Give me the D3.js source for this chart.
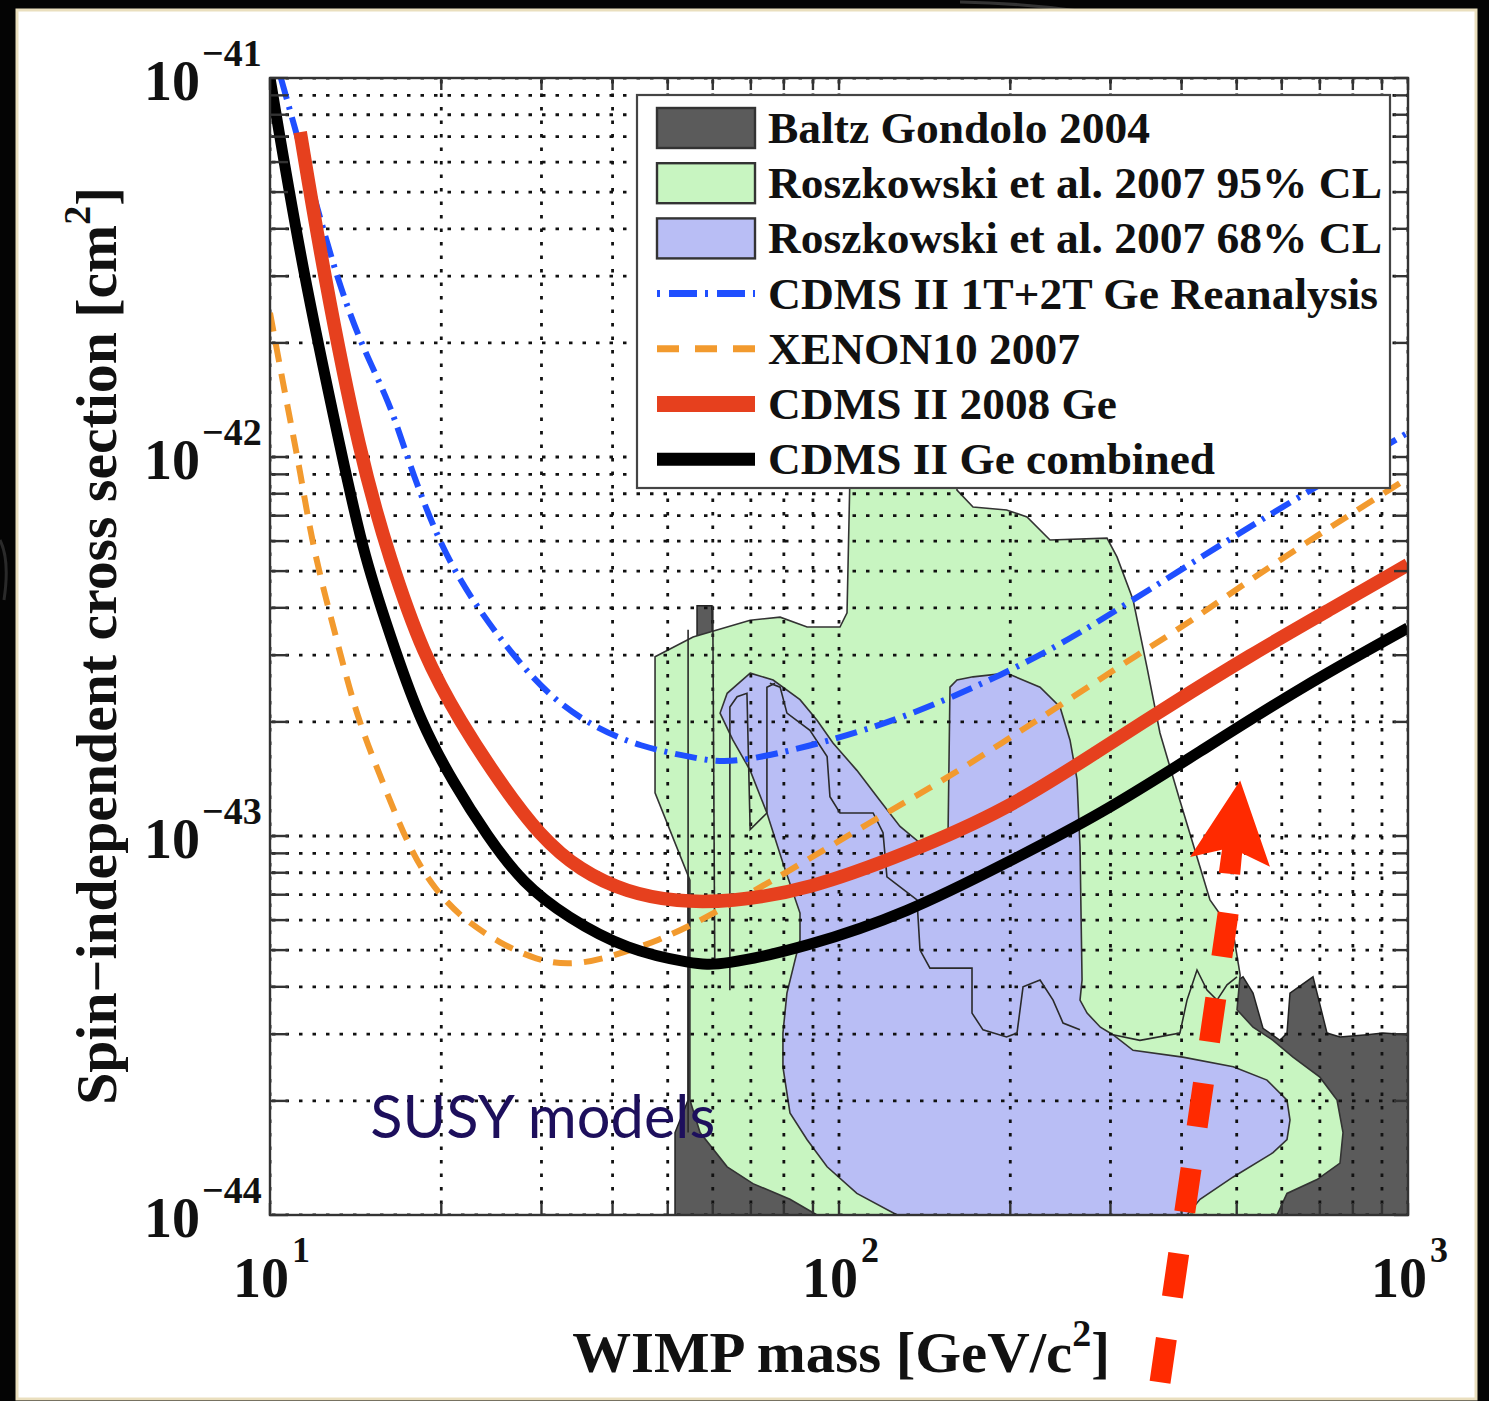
<!DOCTYPE html>
<html><head><meta charset="utf-8">
<script src="https://cdn.jsdelivr.net/npm/d3@7"></script>
<style>html,body{margin:0;padding:0;background:#000;} svg{display:block}</style>
</head><body><svg id="c" width="1489" height="1401"></svg>
<script>
// ---------------- DATA ----------------
const xDomain = [10, 1000];
const yDomain = [1e-41, 1e-44];
const xTickValues = [10, 100, 1000];
const xTickExps = ["1", "2", "3"];
const yTickValues = [1e-41, 1e-42, 1e-43, 1e-44];
const yTickExps = ["\u221241", "\u221242", "\u221243", "\u221244"];

const legendLabels = [
  "Baltz Gondolo 2004",
  "Roszkowski et al. 2007 95% CL",
  "Roszkowski et al. 2007 68% CL",
  "CDMS II 1T+2T Ge Reanalysis",
  "XENON10 2007",
  "CDMS II 2008 Ge",
  "CDMS II Ge combined"
];
const legendTextWidths = [382, 614, 614, 610, 312, 349, 447];

// regions: [mass GeV, sigma cm^2]
const baltzGondolo = [[51.5,1e-44],[51.5,1.65e-44],[54.3,2.01e-44],[54.3,7.65e-44],[56.3,2.29e-43],[56.3,4.05e-43],[59.8,4.05e-43],[60.0,2.29e-43],[85.4,3.69e-44],[352,3.69e-44],[493,4.09e-44],[512.9,4.25e-44],[534.1,3.85e-44],[556.1,3.11e-44],[595.7,2.89e-44],[612.8,3.02e-44],[620.3,3.85e-44],[680.8,4.25e-44],[720.6,3.02e-44],[759.5,2.95e-44],[847.3,2.99e-44],[903.9,3.02e-44],[1000,2.99e-44],[1000,1e-44]];
const rosz95 = [[47.5,2.97e-43],[55.4,3.35e-43],[69.8,3.71e-43],[78.8,3.78e-43],[87.9,3.56e-43],[100.4,3.56e-43],[103.3,3.88e-43],[104.5,8.7e-43],[104.5,9.8e-43],[161.2,9.8e-43],[161.2,8.18e-43],[172,7.38e-43],[197,7.25e-43],[214,6.95e-43],[234.9,6.04e-43],[295.8,6.11e-43],[308,5.45e-43],[328.7,4.2e-43],[347.7,2.79e-43],[366.5,1.87e-43],[397.3,1.24e-43],[431,8.28e-44],[448.7,6.78e-44],[493,5.55e-44],[507,4.3e-44],[500.6,3.48e-44],[534.1,3.13e-44],[579.1,2.89e-44],[627.9,2.61e-44],[700,2.31e-44],[750.4,2.01e-44],[768.8,1.65e-44],[759.5,1.37e-44],[692,1.24e-44],[612.8,1.14e-44],[588.6,1e-44],[91.5,1e-44],[82,1.1e-44],[70.6,1.21e-44],[63.6,1.34e-44],[57,1.65e-44],[54.7,2.01e-44],[54.7,7.65e-44],[47.5,1.3e-43]];
const rosz68 = [[69.8,2.69e-43],[76.6,2.58e-43],[85.4,2.29e-43],[91.5,2.02e-43],[97.6,1.76e-43],[107.5,1.49e-43],[118,1.24e-43],[128,1.06e-43],[141.6,9.35e-44],[155.5,1.04e-43],[156.7,2.47e-43],[161.2,2.58e-43],[172,2.63e-43],[197,2.69e-43],[225.6,2.47e-43],[244.6,2.19e-43],[254.7,1.79e-43],[262,1.41e-43],[265.2,9.35e-44],[267.4,4.17e-44],[265.2,3.69e-44],[272.9,3.41e-44],[288,3.13e-44],[303,2.99e-44],[328.7,2.72e-44],[402,2.61e-44],[493,2.46e-44],[565.2,2.27e-44],[612.8,2.01e-44],[620.3,1.78e-44],[612.8,1.58e-44],[579.1,1.46e-44],[493,1.26e-44],[431,1.1e-44],[408.9,1e-44],[126.5,1e-44],[107.5,1.14e-44],[95.3,1.34e-44],[87.9,1.58e-44],[82,1.86e-44],[79.7,2.46e-44],[79.7,3.02e-44],[81,3.85e-44],[85.4,5.32e-44],[85.4,6.26e-44],[79.7,8.49e-44],[74.7,1.15e-43],[69.8,1.49e-43],[65.1,1.79e-43],[61.8,2.11e-43],[63.6,2.38e-43]];

// thin contour lines drawn over the filled regions
const contourEdgeA = [[54.3,3.5e-43],[54.3,1.65e-44]];
const contourEdgeB = [[60.0,4.05e-43],[60.5,4.51e-44]];
const contourInner = [[64.3,3.92e-44],[64.3,2.19e-43],[66.2,2.33e-43],[68.9,2.38e-43],[69.8,1.04e-43],[74.7,1.15e-43],[74.7,2.47e-43],[77.2,2.53e-43]];
const contourStep = [[75.6,2.53e-43],[78.8,2.47e-43],[81.0,2.11e-43],[88.9,1.9e-43],[95.3,1.62e-43],[96.4,1.27e-43],[100.4,1.15e-43],[114.8,1.15e-43],[119.5,1.02e-43],[121.4,7.8e-44],[128,7.34e-44],[137.1,6.78e-44],[138.8,5.0e-44],[144.5,4.48e-44],[171.3,4.48e-44],[171.3,3.41e-44],[179.1,3.08e-44],[197,2.95e-44],[205.5,3.02e-44],[210.6,4.0e-44],[225.6,4.17e-44],[237.8,3.69e-44],[247.6,3.21e-44],[265.2,3.08e-44]];
const contourBumps = [[303,2.99e-44],[338,2.89e-44],[397.3,3.02e-44],[408.9,3.69e-44],[425.8,4.43e-44],[443.4,3.92e-44],[461.7,3.69e-44],[480.8,4.05e-44],[500.6,4.25e-44]];

// exclusion limits
const cdmsReanalysis = [[10.45,1e-41],[12.4,4.0e-42],[13.1,3.0e-42],[14.4,2.0e-42],[16.25,1.39e-42],[17.4,1e-42],[19.9,5.8e-43],[23.1,4.0e-43],[27.2,2.9e-43],[31.4,2.3e-43],[37.0,1.94e-43],[44.7,1.72e-43],[55.4,1.61e-43],[62.5,1.56e-43],[72.6,1.61e-43],[93.7,1.76e-43],[131.7,2.06e-43],[197,2.69e-43],[258,3.35e-43],[308,3.95e-43],[493,6.15e-43],[603,7.4e-43],[1000,1.16e-42]];
const xenon10 = [[10,2.4e-42],[10.7,1.39e-42],[11.3,9.2e-43],[11.9,5.7e-43],[13.1,3.3e-43],[14.2,2.06e-43],[15.8,1.38e-43],[17.4,9.6e-44],[19.1,7.5e-44],[21.6,6.1e-44],[25.4,5.2e-44],[29.5,4.7e-44],[33.3,4.57e-44],[38.0,4.7e-44],[48.5,5.3e-44],[58.6,6.1e-44],[82,8.1e-44],[114.8,1.1e-43],[150,1.38e-43],[197,1.79e-43],[258,2.33e-43],[338,3.04e-43],[402,3.56e-43],[603,5.45e-43],[1000,8.8e-43]];
const cdms2008 = [[11.3,7.2e-42],[12.4,3.1e-42],[14.4,1e-42],[16.25,5.35e-43],[18.6,3.0e-43],[21.6,2.0e-43],[25.4,1.38e-43],[29.8,1.0e-43],[35.1,8.1e-44],[42.4,7.1e-44],[51.9,6.7e-44],[64.3,6.7e-44],[87.9,7.2e-44],[131.7,9.0e-44],[197,1.17e-43],[288,1.69e-43],[377,2.19e-43],[528,3.0e-43],[738,4.0e-43],[1000,5.2e-43]];
const cdmsCombined = [[10,1e-41],[11.4,3.1e-42],[13.4,1e-42],[14.6,5.5e-43],[16.7,3.0e-43],[18.4,2.0e-43],[21.0,1.38e-43],[24.1,1.0e-43],[27.8,7.5e-44],[33.3,6.1e-44],[42.4,5.0e-44],[55.4,4.6e-44],[61.8,4.54e-44],[87.9,5.1e-44],[131.7,6.26e-44],[197,8.49e-44],[288,1.14e-43],[431,1.67e-43],[646,2.46e-43],[1000,3.54e-43]];

// annotation arrow (mass, sigma)
const arrowShaft = [[483,6.26e-44],[366,3.56e-45]];
const arrowHead = [[507,1.4e-43],[572,8.3e-44],[511,9.0e-44],[507,7.9e-44],[465,8.0e-44],[471,9.2e-44],[414,8.8e-44]];
const annotationText = "SUSY models";
const annotationPos = [[15.0, 1.6e-44]];

// ---------------- DRAW ----------------
const svg = d3.select("#c");
const W = 1489, H = 1401;
const x = d3.scaleLog().domain(xDomain).range([270, 1408]);
const y = d3.scaleLog().domain(yDomain).range([78, 1215]);
const serif = "'Liberation Serif','Times New Roman',serif";

svg.append("rect").attr("width", W).attr("height", H).attr("fill", "#040404");
svg.append("path").attr("d", "M960,2 Q1060,4 1140,22").attr("stroke", "#555").attr("stroke-width", 3).attr("fill", "none").attr("opacity", 0.6);
svg.append("path").attr("d", "M0,540 Q10,560 4,600").attr("stroke", "#444").attr("stroke-width", 3).attr("fill", "none").attr("opacity", 0.6);

// card
svg.append("rect").attr("x", 17).attr("y", 10).attr("width", 1459).attr("height", 1389)
  .attr("fill", "#ffffff").attr("stroke", "#eadfbe").attr("stroke-width", 3);

const defs = svg.append("defs");
defs.append("clipPath").attr("id", "plotClip").append("rect")
  .attr("x", 270).attr("y", 78).attr("width", 1138).attr("height", 1137);

const plot = svg.append("g").attr("clip-path", "url(#plotClip)");
const area = d3.line().x(d => x(d[0])).y(d => y(d[1])).curve(d3.curveLinearClosed);
const poly = d3.line().x(d => x(d[0])).y(d => y(d[1])).curve(d3.curveLinear);
const smooth = d3.line().x(d => x(d[0])).y(d => y(d[1])).curve(d3.curveBasis);

plot.append("path").attr("d", area(baltzGondolo)).attr("fill", "#5b5b5b").attr("stroke", "#222").attr("stroke-width", 1.5);
plot.append("path").attr("d", area(rosz95)).attr("fill", "#c8f5c1").attr("stroke", "#333").attr("stroke-width", 1.6);
plot.append("path").attr("d", area(rosz68)).attr("fill", "#b9bef5").attr("stroke", "#333").attr("stroke-width", 1.6);

// grid
const xGridVals = [], yGridVals = [];
for (let e = 1; e <= 2; e++) for (let k = 1; k <= 9; k++) xGridVals.push(k * Math.pow(10, e));
xGridVals.push(1000);
for (let e = -44; e <= -42; e++) for (let k = 1; k <= 9; k++) yGridVals.push(k * Math.pow(10, e));
yGridVals.push(1e-41);
const grid = plot.append("g").attr("stroke", "#111").attr("stroke-width", 2.8).attr("stroke-dasharray", "3.5,10");
xGridVals.forEach(v => grid.append("line").attr("x1", x(v)).attr("x2", x(v)).attr("y1", 80).attr("y2", 1215));
yGridVals.forEach(v => grid.append("line").attr("y1", y(v)).attr("y2", y(v)).attr("x1", 272).attr("x2", 1408));

// contour lines
[contourEdgeA, contourEdgeB, contourInner, contourStep, contourBumps].forEach(c =>
  plot.append("path").attr("d", poly(c)).attr("fill", "none").attr("stroke", "#2a2a2a").attr("stroke-width", 1.6));

// limit curves
plot.append("path").attr("d", smooth(cdmsReanalysis)).attr("fill", "none").attr("stroke", "#1f4fff")
  .attr("stroke-width", 6).attr("stroke-dasharray", "22,8,3,8");
plot.append("path").attr("d", smooth(xenon10)).attr("fill", "none").attr("stroke", "#f29a2e")
  .attr("stroke-width", 6).attr("stroke-dasharray", "19,12");
plot.append("path").attr("d", smooth(cdms2008)).attr("fill", "none").attr("stroke", "#e6401e")
  .attr("stroke-width", 13.5);
plot.append("path").attr("d", smooth(cdmsCombined)).attr("fill", "none").attr("stroke", "#000")
  .attr("stroke-width", 11);

// frame + ticks
const frame = svg.append("g").attr("stroke", "#333").attr("stroke-width", 2.4);
frame.append("rect").attr("x", 270).attr("y", 78).attr("width", 1138).attr("height", 1137).attr("fill", "none");
xGridVals.forEach(v => {
  frame.append("line").attr("x1", x(v)).attr("x2", x(v)).attr("y1", 1215).attr("y2", 1203);
  frame.append("line").attr("x1", x(v)).attr("x2", x(v)).attr("y1", 78).attr("y2", 90);
});
yGridVals.forEach(v => {
  frame.append("line").attr("y1", y(v)).attr("y2", y(v)).attr("x1", 270).attr("x2", 288);
  frame.append("line").attr("y1", y(v)).attr("y2", y(v)).attr("x1", 1408).attr("x2", 1394);
});

// tick labels
xTickValues.forEach((v, i) => {
  svg.append("text").attr("x", x(v) + 19).attr("y", 1297).attr("text-anchor", "end")
    .attr("font-family", serif).attr("font-weight", "bold").attr("font-size", 56).attr("fill", "#111").text("10");
  svg.append("text").attr("x", x(v) + 22).attr("y", 1262).attr("text-anchor", "start")
    .attr("font-family", serif).attr("font-weight", "bold").attr("font-size", 36).attr("fill", "#111").text(xTickExps[i]);
});
yTickValues.forEach((v, i) => {
  svg.append("text").attr("x", 200).attr("y", y(v) + 22).attr("text-anchor", "end")
    .attr("font-family", serif).attr("font-weight", "bold").attr("font-size", 56).attr("fill", "#111").text("10");
  svg.append("text").attr("x", 202).attr("y", y(v) - 12).attr("text-anchor", "start")
    .attr("font-family", serif).attr("font-weight", "bold").attr("font-size", 38).attr("fill", "#111").text(yTickExps[i]);
});

// axis titles
const xt = svg.append("text").attr("x", 841).attr("y", 1372).attr("text-anchor", "middle")
  .attr("font-family", serif).attr("font-weight", "bold").attr("font-size", 56).attr("fill", "#111");
xt.append("tspan").attr("textLength", 500).attr("lengthAdjust", "spacingAndGlyphs").text("WIMP mass [GeV/c");
xt.append("tspan").attr("font-size", 38).attr("dy", -26).text("2");
xt.append("tspan").attr("dy", 26).text("]");

const yt = svg.append("text").attr("transform", "translate(116,646) rotate(-90)").attr("text-anchor", "middle")
  .attr("font-family", serif).attr("font-weight", "bold").attr("font-size", 56).attr("fill", "#111");
yt.append("tspan").attr("textLength", 880).attr("lengthAdjust", "spacingAndGlyphs").text("Spin\u2212independent cross section [cm");
yt.append("tspan").attr("font-size", 38).attr("dy", -26).text("2");
yt.append("tspan").attr("dy", 26).text("]");

// legend
const lg = svg.append("g");
lg.append("rect").attr("x", 637).attr("y", 95).attr("width", 753).attr("height", 393)
  .attr("fill", "#fff").attr("stroke", "#444").attr("stroke-width", 2.2);
const rowY = i => 128 + i * 55.2;
const swatchFills = ["#5b5b5b", "#c8f5c1", "#b9bef5"];
swatchFills.forEach((f, i) => lg.append("rect").attr("x", 657).attr("y", rowY(i) - 20).attr("width", 98).attr("height", 40)
  .attr("fill", f).attr("stroke", "#333").attr("stroke-width", 2.4));
const lineStyles = [
  {c: "#1f4fff", w: 7, d: "3,9,28,8,3,9,28,8"},
  {c: "#f29a2e", w: 7, d: "22,16"},
  {c: "#e6401e", w: 16, d: null},
  {c: "#000", w: 13, d: null}
];
lineStyles.forEach((s, j) => {
  const ln = lg.append("line").attr("x1", 657).attr("x2", 755).attr("y1", rowY(j + 3)).attr("y2", rowY(j + 3))
    .attr("stroke", s.c).attr("stroke-width", s.w);
  if (s.d) ln.attr("stroke-dasharray", s.d);
});
legendLabels.forEach((t, i) => {
  lg.append("text").attr("x", 768).attr("y", rowY(i) + 15).attr("font-family", serif).attr("font-weight", "bold")
    .attr("font-size", 45).attr("fill", "#111").attr("textLength", legendTextWidths[i]).attr("lengthAdjust", "spacingAndGlyphs").text(t);
});

// annotation text
svg.append("text").attr("x", x(annotationPos[0][0])).attr("y", y(annotationPos[0][1]))
  .attr("font-family", "Lato, 'Open Sans', sans-serif").attr("font-size", 60).attr("fill", "#1d0f5c")
  .attr("textLength", 345).attr("lengthAdjust", "spacingAndGlyphs").text(annotationText);

// arrow
svg.append("path").attr("d", poly(arrowShaft)).attr("stroke", "#ff2a00").attr("stroke-width", 21)
  .attr("stroke-dasharray", "44,42").attr("fill", "none");
svg.append("path").attr("d", area(arrowHead)).attr("fill", "#ff2a00");
</script></body></html>
